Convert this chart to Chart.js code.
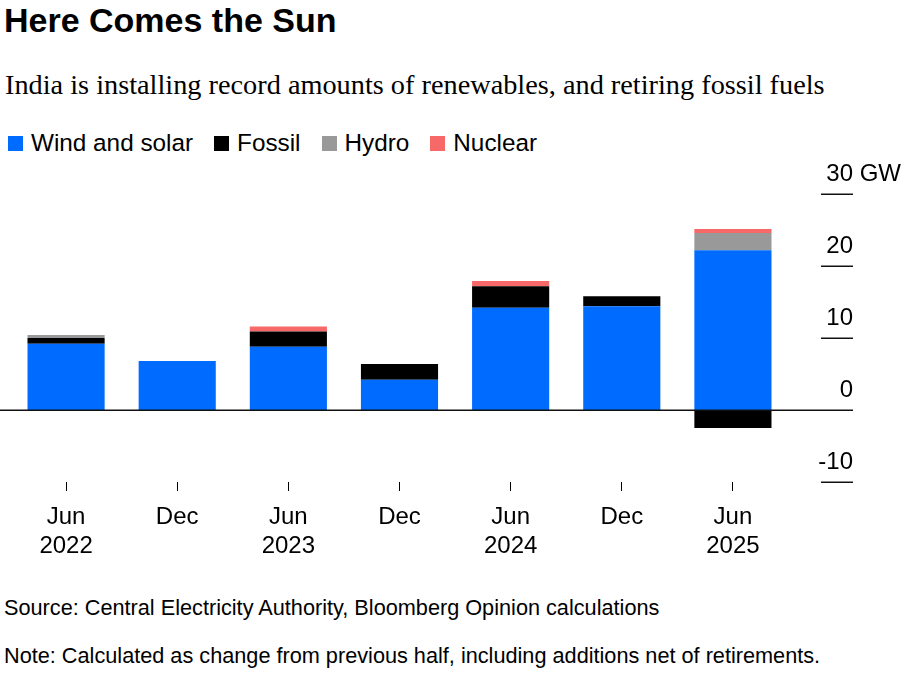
<!DOCTYPE html>
<html>
<head>
<meta charset="utf-8">
<script src="https://cdn.jsdelivr.net/npm/chart.js@4.4.1/dist/chart.umd.min.js"></script>
<style>
  html, body { margin: 0; padding: 0; background: #fff; }
  body { width: 908px; height: 677px; position: relative; overflow: hidden; font-family: "Liberation Sans", Arial, sans-serif; color: #000; }
  #title { position: absolute; left: 4px; top: 3px; font-size: 34px; line-height: 34px; font-weight: bold; }
  #subtitle { position: absolute; left: 5px; top: 69px; font-family: "Liberation Serif", "Times New Roman", serif; font-size: 28.3px; line-height: 32px; }
  #legend { position: absolute; left: 8px; top: 129px; display: flex; font-size: 24.3px; line-height: 28px; }
  #legend .item { display: flex; align-items: center; margin-right: 21px; }
  #legend .box { width: 15px; height: 15px; margin-right: 8px; }
  #source, #note { position: absolute; left: 4px; font-size: 21.7px; line-height: 24px; }
  #source { top: 596px; }
  #note { top: 644px; }
  #wrap { position: absolute; left: 0; top: 0; width: 908px; height: 677px; }
</style>
</head>
<body>
<div id="title">Here Comes the Sun</div>
<div id="subtitle">India is installing record amounts of renewables, and retiring fossil fuels</div>
<div id="legend"></div>
<div id="source">Source: Central Electricity Authority, Bloomberg Opinion calculations</div>
<div id="note">Note: Calculated as change from previous half, including additions net of retirements.</div>
<div id="wrap"><canvas id="chart1"></canvas></div>
<script>
// half-year periods
const months = ['Jun', 'Dec', 'Jun', 'Dec', 'Jun', 'Dec', 'Jun'];
const years = ['2022', '', '2023', '', '2024', '', '2025'];

// net capacity change, GW
const windSolar = [9.2, 6.8, 8.8, 4.2, 14.2, 14.4, 22.2];
const fossil = [0.8, 0, 2.1, 2.2, 3.0, 1.4, -2.5];
const hydro = [0.4, 0, 0, 0, 0, 0, 2.4];
const nuclear = [0, 0, 0.7, 0, 0.7, 0, 0.55];

const seriesNames = ['Wind and solar', 'Fossil', 'Hydro', 'Nuclear'];
const seriesColors = ['#006BFF', '#000000', '#999999', '#F76868'];

const yTicks = [30, 20, 10, 0, -10];
const yUnit = 'GW';

const labels = months.map((m, i) => [m, years[i]]);
const seriesData = [windSolar, fossil, hydro, nuclear];

// html legend
const legendEl = document.getElementById('legend');
seriesNames.forEach(function(name, i){
  const item = document.createElement('div');
  item.className = 'item';
  item.innerHTML = '<span class="box" style="background:' + seriesColors[i] + '"></span>' + name;
  legendEl.appendChild(item);
});

const rightAxis = {
  id: 'rightAxis',
  afterDatasetsDraw(chart) {
    const ctx = chart.ctx;
    const y = chart.scales.y;
    ctx.save();
    ctx.strokeStyle = '#111';
    ctx.lineWidth = 1.5;
    ctx.fillStyle = '#000';
    ctx.font = '24px "Liberation Sans", Arial, sans-serif';
    ctx.textBaseline = 'alphabetic';
    yTicks.forEach(function(v, i){
      const py = Math.round(y.getPixelForValue(v)) + 0.25;
      ctx.beginPath();
      ctx.moveTo(v === 0 ? 0 : 821, py);
      ctx.lineTo(853, py);
      ctx.stroke();
      ctx.textAlign = 'right';
      ctx.fillText(String(v), 853, py - 13);
      if (i === 0) {
        ctx.textAlign = 'left';
        ctx.fillText(' ' + yUnit, 853, py - 13);
      }
    });
    ctx.restore();
  }
};

const ctx1 = document.getElementById('chart1');
const myChart1 = new Chart(ctx1, {
  type: 'bar',
  data: {
    labels: labels,
    datasets: seriesNames.map((name, i) => ({
      label: name,
      data: seriesData[i],
      backgroundColor: seriesColors[i],
      borderWidth: 0,
      categoryPercentage: 0.694,
      barPercentage: 1
    }))
  },
  options: {
    responsive: true,
    maintainAspectRatio: false,
    animation: false,
    layout: { padding: { left: 10.5, right: 119.5, top: 194, bottom: 115 } },
    plugins: {
      legend: { display: false },
      tooltip: { enabled: false }
    },
    scales: {
      x: {
        stacked: true,
        border: { display: false },
        grid: { offset: false, drawOnChartArea: false, drawTicks: true, tickLength: 9, color: '#000', lineWidth: 1 },
        ticks: {
          color: '#000',
          padding: 12,
          maxRotation: 0,
          font: { family: '"Liberation Sans", Arial, sans-serif', size: 24, lineHeight: 1.2 }
        },
        afterFit(scale) { scale.height = 80; }
      },
      y: {
        stacked: true,
        display: false,
        min: -10,
        max: 30
      }
    }
  },
  plugins: [rightAxis]
});
</script>
</body>
</html>
